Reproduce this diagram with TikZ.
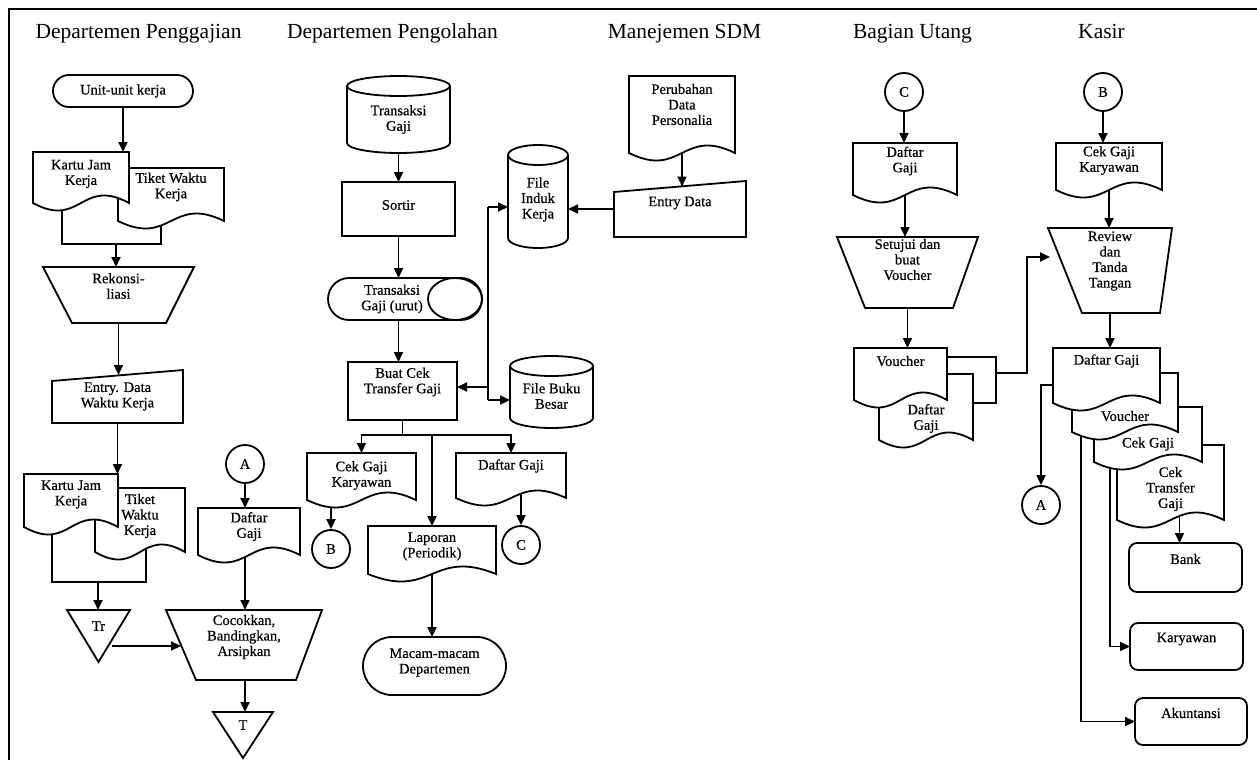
\documentclass[tikz,border=0pt]{standalone}
\usepackage{fontspec}
\setmainfont{Liberation Serif}
\newfontfamily\heavyserif[FakeBold=0.5]{Liberation Serif}
\usetikzlibrary{arrows.meta,calc}
\newdimen\dxa \newdimen\dya \newdimen\dxb \newdimen\dyb
\newdimen\dxc \newdimen\dyu \newdimen\dyd
\makeatletter
\pgfdeclareshape{docshape}{%
  \inheritsavedanchors[from=rectangle]%
  \inheritanchorborder[from=rectangle]%
  \inheritanchor[from=rectangle]{center}%
  \inheritanchor[from=rectangle]{north}%
  \inheritanchor[from=rectangle]{south}%
  \inheritanchor[from=rectangle]{east}%
  \inheritanchor[from=rectangle]{west}%
  \inheritanchor[from=rectangle]{north east}%
  \inheritanchor[from=rectangle]{north west}%
  \inheritanchor[from=rectangle]{south east}%
  \inheritanchor[from=rectangle]{south west}%
  \inheritanchor[from=rectangle]{text}%
  \backgroundpath{%
    \southwest \dxa=\pgf@x \dya=\pgf@y
    \northeast \dxb=\pgf@x \dyb=\pgf@y
    \dxc=.5\dxa \advance\dxc by .5\dxb
    \dyu=\dya \advance\dyu by 26pt
    \dyd=\dya \advance\dyd by -26pt
    \pgfpathmoveto{\pgfqpoint{\dxa}{\dyb}}%
    \pgfpathlineto{\pgfqpoint{\dxb}{\dyb}}%
    \pgfpathlineto{\pgfqpoint{\dxb}{\dya}}%
    \pgfpathcurveto{\pgfqpoint{\dxc}{\dyu}}{\pgfqpoint{\dxc}{\dyd}}{\pgfqpoint{\dxa}{\dya}}%
    \pgfpathclose
  }%
}
\makeatother
\pgfdeclarelayer{bg}
\pgfsetlayers{bg,main}
\newcommand\nodefont{\heavyserif\fontsize{14.5}{15.5}\selectfont}
\newcommand\headfont{\fontsize{21.5}{24}\selectfont}
\tikzset{
  ln/.style={line width=1.8pt, line join=miter},
  arr/.style={ln, -{Triangle[length=10pt,width=9pt]}},
  lbl/.style={font=\nodefont, align=center, inner sep=0pt},
  tx/.style 2 args={label={[lbl,yshift=#1]center:{#2}}},
  box/.style={rectangle, inner sep=0pt, outer sep=0pt},
  proc/.style={box, draw, ln},
  term/.style={box, draw, ln, rounded corners=#1},
  docu/.style={shape=docshape, draw, fill=white, ln, inner sep=0pt, outer sep=0pt},
  conn/.style={circle, draw, ln, minimum size=38pt, inner sep=0pt, font=\nodefont},
  rbox/.style={box, draw, ln, rounded corners=8pt},
  head/.style={font=\headfont, anchor=base, inner sep=0pt},
}
% manual operation (inverted trapezoid)
\newcommand\manop[3]{\draw[ln] (#1.north west) -- (#1.north east) -- ($(#1.south east)+(-#3,0)$) -- ($(#1.south west)+(#2,0)$) -- cycle;}
% manual input (slanted top)
\newcommand\manin[2]{\draw[ln] (#1.south west) -- ($(#1.north west)+(0,#2)$) -- (#1.north east) -- (#1.south east) -- cycle;}
% offline file (triangle pointing down)
\newcommand\tridown[1]{\draw[ln] (#1.north west) -- (#1.north east) -- (#1.south) -- cycle;}
% disk cylinder: node is body from top-ellipse centre line to bottom
\newcommand\cyl[3]{\draw[ln] (#1.north) ellipse[x radius=#2pt, y radius=#3pt];
  \draw[ln] (#1.north west) -- ($(#1.south west)+(0,-#3)$) arc[start angle=180, end angle=360, x radius=#2pt, y radius=#3pt] -- (#1.north east);}
\begin{document}
\begin{tikzpicture}[x=1pt,y=-1pt]
\useasboundingbox (0,0) rectangle (1257,760);
\coordinate (f0) at (9,9);
\coordinate (f1) at (1257,9);
\coordinate (f2) at (9,760);
\draw[line width=2.5pt] (f1) -- (f0) -- (f2);

% ---------------- Departemen Penggajian
\node[head] (h1) at (138.5,38) {Departemen Penggajian};
\node[term=16pt, minimum width=140, minimum height=32, tx={0}{Unit-unit kerja}] (unit) at (123,91) {};
\node[docu, minimum width=106, minimum height=53, tx={7.5}{Tiket Waktu\\Kerja}] (tw1) at (171,194.5) {};
\node[docu, minimum width=96, minimum height=51, tx={3.5}{Kartu Jam\\Kerja}] (kj1) at (81,177.5) {};
\coordinate (j1) at (116,244);
\node[box, minimum width=151, minimum height=56, tx={9}{Rekonsi-\\liasi}] (rek) at (118.5,295) {};
\manop{rek}{29}{28}
\node[box, minimum width=131, minimum height=53, tx={0}{Entry. Data\\Waktu Kerja}] (ed1) at (117.5,396.5) {};
\manin{ed1}{11}
\node[docu, minimum width=90, minimum height=64, tx={4}{Tiket\\Waktu\\Kerja}] (tw2) at (140,520) {};
\node[docu, minimum width=94, minimum height=53, tx={6}{Kartu Jam\\Kerja}] (kj2) at (71,500.5) {};
\coordinate (j2) at (98,582);
\node[box, minimum width=63, minimum height=52, tx={10}{Tr}] (tr) at (98.5,636) {};
\tridown{tr}
\node[conn] (a1) at (245,464) {A};
\node[docu, minimum width=102, minimum height=47, tx={5}{Daftar\\Gaji}] (dg1) at (249,531.5) {};
\node[box, minimum width=156, minimum height=70, tx={8}{Cocokkan,\\Bandingkan,\\Arsipkan}] (coc) at (244,645) {};
\manop{coc}{30}{26}
\node[box, minimum width=60, minimum height=46, tx={10}{T}] (tt) at (243,735) {};
\tridown{tt}

% ---------------- Departemen Pengolahan
\node[head] (h2) at (392.5,38) {Departemen Pengolahan};
\node[box, minimum width=103, minimum height=67, tx={0}{Transaksi\\Gaji}] (tg) at (398.5,119.5) {};
\cyl{tg}{51.5}{10}
\node[proc, minimum width=113, minimum height=54, tx={4}{Sortir}] (sor) at (398.5,209) {};
\node[term=21pt, minimum width=154, minimum height=42, label={[lbl,xshift=-13pt]center:{Transaksi\\Gaji (urut)}}] (uru) at (405,299) {};
\draw[ln] ($(uru.east)+(-27,0)$) ellipse[x radius=27pt, y radius=21pt];
\node[proc, minimum width=109, minimum height=58, tx={9}{Buat Cek\\Transfer Gaji}] (bc) at (402.5,391) {};
\node[box, minimum width=60, minimum height=93, tx={2}{File\\Induk\\Kerja}] (fik) at (538,201.5) {};
\cyl{fik}{30}{10}
\node[box, minimum width=83, minimum height=62, tx={1}{File Buku\\Besar}] (fbb) at (551.5,397) {};
\cyl{fbb}{41.5}{10}
\node[docu, minimum width=109, minimum height=47, tx={1}{Cek Gaji\\Karyawan}] (cgk) at (361.5,476.5) {};
\node[docu, minimum width=110, minimum height=45, tx={9.5}{Daftar Gaji}] (dgp) at (511,475.5) {};
\node[conn] (b1) at (331,549) {B};
\node[conn] (c1) at (521,545) {C};
\node[docu, minimum width=128, minimum height=48, tx={3.5}{Laporan\\(Periodik)}] (lap) at (432,550) {};
\node[term=29pt, minimum width=143, minimum height=58, tx={3.5}{Macam-macam\\Departemen}] (mac) at (434.5,666) {};
\coordinate (v1) at (488,207);
\coordinate (v2) at (488,400);
\coordinate (v3) at (488,387);

% ---------------- Manejemen SDM
\node[head] (h3) at (684.5,38) {Manejemen SDM};
\node[docu, minimum width=106, minimum height=77, tx={10}{Perubahan\\Data\\Personalia}] (pdp) at (682,114.5) {};
\node[box, minimum width=132, minimum height=56, tx={6}{Entry Data}] (ed2) at (680,209) {};
\manin{ed2}{11}

% ---------------- Bagian Utang
\node[head] (h4) at (912.5,38) {Bagian Utang};
\node[conn] (c2) at (904,92) {C};
\node[docu, minimum width=104, minimum height=52, tx={8}{Daftar\\Gaji}] (dgu) at (905,169) {};
\node[box, minimum width=141, minimum height=71, tx={13}{Setujui dan\\buat\\Voucher}] (setj) at (907.5,272.5) {};
\manop{setj}{28}{25}
\node[docu, minimum width=94, minimum height=66, tx={-11.5}{Daftar\\Gaji}] (dgu2) at (926,407) {};
\node[docu, minimum width=93, minimum height=52, tx={13}{Voucher}] (vu) at (900.5,374) {};
\coordinate (ub) at (996,373);
\coordinate (uk) at (1027,257);

% ---------------- Kasir
\node[head] (h5) at (1101.5,38) {Kasir};
\node[conn] (b2) at (1103,92) {B};
\node[docu, minimum width=106, minimum height=47, tx={6}{Cek Gaji\\Karyawan}] (cgk2) at (1109,166.5) {};
\node[box, minimum width=124, minimum height=85, tx={9.5}{Review\\dan\\Tanda\\Tangan}] (rev) at (1110,270.5) {};
\manop{rev}{34}{12}
\node[docu, minimum width=107, minimum height=75, tx={-6.5}{Cek\\Transfer\\Gaji}] (ctg) at (1170.5,482.5) {};
\node[docu, minimum width=108, minimum height=55, tx={-9.5}{Cek Gaji}] (cgj) at (1148,434.5) {};
\node[docu, minimum width=106, minimum height=59, tx={-13.5}{Voucher}] (vk) at (1125,402.5) {};
\node[docu, minimum width=107, minimum height=55, tx={14.5}{Daftar Gaji}] (dgk) at (1106.5,375.5) {};
\node[conn] (a2) at (1041,505) {A};
\node[rbox, minimum width=113, minimum height=49, tx={8.5}{Bank}] (bank) at (1185.5,567.5) {};
\node[rbox, minimum width=113, minimum height=47, tx={7.5}{Karyawan}] (kar) at (1186.5,646.5) {};
\node[rbox, minimum width=112, minimum height=47, tx={8.5}{Akuntansi}] (akt) at (1191,721.5) {};
\coordinate (cb) at ($(ctg.south)+(9,-5)$);

% ---------------- connectors
\begin{pgfonlayer}{bg}
\draw[arr] (unit.south) -- (unit.south |- kj1.north);
\draw[ln] ($(kj1.south west)+(29,0)$) -- ++(0,41) -| ($(tw1.south west)+(43,0)$);
\draw[arr] (j1) -- (j1 |- rek.north);
\draw[arr] (rek.south) -- ($(rek.south |- ed1.north)+(0,5)$);
\draw[arr] (ed1.south) -- (ed1.south |- kj2.north);
\draw[ln] ($(kj2.south west)+(28,0)$) -- ++(0,55) -| ($(tw2.south west)+(51,-4)$);
\draw[arr] (j2) -- (j2 |- tr.north);
\draw[arr] ($(tr.north)+(13,36)$) -- ($(coc.north west)+(15,36)$);
\draw[arr] (a1.south) -- (a1.south |- dg1.north);
\draw[arr] ($(a1.south |- dg1.south)+(0,-3)$) -- (a1.south |- coc.north);
\draw[arr] (a1.south |- coc.south) -- (a1.south |- tt.north);

\draw[arr] (tg.south) -- (tg.south |- sor.north);
\draw[arr] (sor.south) -- (sor.south |- uru.north);
\draw[arr] (sor.south |- uru.south) -- (sor.south |- bc.north);
\draw[ln] (v1) -- (v2);
\draw[arr] (v1) -- (v1 -| fik.west);
\draw[arr] (v2) -- (v2 -| fbb.west);
\draw[arr] (v3) -- (v3 -| bc.east);
\draw[arr] (ed2.west) -- (ed2.west -| fik.east);
\draw[arr] (pdp.south) -- ($(pdp.south |- ed2.north)+(0,5.5)$);
\coordinate (sp) at ($(bc.south)+(0,15)$);
\draw[ln] (bc.south) -- (sp);
\draw[arr] (sp) -| (cgk.north);
\draw[arr] (sp) -| (dgp.north);
\draw[arr] (sp -| lap.north) -- (lap.north);
\draw[arr] (b1 |- cgk.south) -- (b1.north);
\draw[arr] ($(c1 |- dgp.south)+(0,-5)$) -- (c1.north);
\draw[arr] (lap.south) -- (lap.south |- mac.north);

\draw[arr] (c2.south) -- (c2.south |- dgu.north);
\draw[arr] (dgu.south) -- (dgu.south |- setj.north);
\draw[arr] (setj.south) -- (setj.south |- vu.north);
\draw[ln] ($(vu.north east)+(0,9)$) -| (ub) |- ($(dgu2.north east)+(0,29)$);
\draw[arr] (ub) -| (uk) -- ($(rev.north west)+(2,29)$);

\draw[arr] (b2.south) -- (b2.south |- cgk2.north);
\draw[arr] (cgk2.south) -- (cgk2.south |- rev.north);
\draw[arr] (rev.south) -- (rev.south |- dgk.north);
\draw[arr] ($(dgk.north west)+(0,37)$) -| (a2.north);
\draw[arr] ($(vk.south west)+(9,0)$) |- (akt.west);
\draw[arr] ($(cgj.south west)+(16,0)$) |- (kar.west);
\draw[arr] (cb) -- (cb |- bank.north);
\end{pgfonlayer}
\end{tikzpicture}
\end{document}
